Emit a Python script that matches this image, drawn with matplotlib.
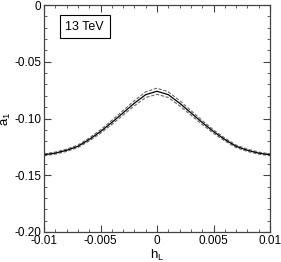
import numpy as np
import matplotlib.pyplot as plt
from matplotlib.ticker import MultipleLocator

plt.rcParams['font.family'] = ['Liberation Sans', 'DejaVu Sans']

h_L = [-0.010, -0.009, -0.008, -0.007, -0.006, -0.005, -0.004, -0.003, -0.002, -0.001, 0.0,
       0.001, 0.002, 0.003, 0.004, 0.005, 0.006, 0.007, 0.008, 0.009, 0.010]
a1_central = [-0.1320, -0.1305, -0.1280, -0.1245, -0.1185, -0.1115, -0.1035, -0.0950, -0.0865, -0.0790, -0.0760,
              -0.0790, -0.0865, -0.0950, -0.1035, -0.1115, -0.1185, -0.1245, -0.1280, -0.1305, -0.1320]
a1_upper = [-0.1312, -0.1296, -0.1270, -0.1234, -0.1172, -0.1100, -0.1017, -0.0930, -0.0842, -0.0765, -0.0733,
            -0.0765, -0.0842, -0.0930, -0.1017, -0.1100, -0.1172, -0.1234, -0.1270, -0.1296, -0.1312]
a1_lower = [-0.1328, -0.1314, -0.1290, -0.1256, -0.1198, -0.1130, -0.1053, -0.0970, -0.0888, -0.0815, -0.0787,
            -0.0815, -0.0888, -0.0970, -0.1053, -0.1130, -0.1198, -0.1256, -0.1290, -0.1314, -0.1328]

x_ticks = [-0.01, -0.005, 0, 0.005, 0.01]
x_labels = ["-0.01", "-0.005", "0", "0.005", "0.01"]
y_ticks = [0, -0.05, -0.10, -0.15, -0.20]
y_labels = ["0", "-0.05", "-0.10", "-0.15", "-0.20"]

fig = plt.figure(figsize=(2.81, 2.62), dpi=100)
ax = fig.add_axes([44 / 281, 30 / 262, 226 / 281, 227 / 262])

ax.plot(h_L, a1_upper, color="#666666", lw=0.8, ls=(0, (3, 1.5)))
ax.plot(h_L, a1_lower, color="#666666", lw=0.8, ls=(0, (3, 1.5)))
ax.plot(h_L, a1_central, color="black", lw=0.9)

ax.set_xlim(-0.01, 0.01)
ax.set_ylim(-0.20, 0)
ax.set_xticks(x_ticks)
ax.set_xticklabels(x_labels)
ax.set_yticks(y_ticks)
ax.set_yticklabels(y_labels)
ax.xaxis.set_minor_locator(MultipleLocator(0.001))
ax.yaxis.set_minor_locator(MultipleLocator(0.01))

ax.tick_params(which="both", direction="in", top=True, right=True,
               labelsize=8.5, color="#444444", pad=2)
ax.tick_params(which="major", length=5, width=0.8)
ax.tick_params(which="minor", length=2.5, width=0.6)
for s in ax.spines.values():
    s.set_color("#444444")
    s.set_linewidth(0.9)

ax.set_xlabel("h$_\\mathregular{L}$", fontsize=9.5, labelpad=1)
ax.set_ylabel("a$_\\mathregular{1}$", fontsize=9.5, labelpad=1)

ax.text(0.095, 0.905, "13 TeV", transform=ax.transAxes, fontsize=9,
        ha="left", va="center",
        bbox=dict(boxstyle="square,pad=0.45", fc="white", ec="black", lw=0.8))

fig.savefig("out.png", dpi=100)
